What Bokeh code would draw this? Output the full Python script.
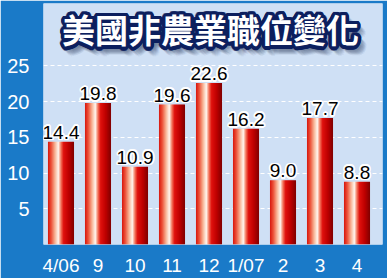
import math
from bokeh.plotting import figure
from bokeh.models import Label, FixedTicker, ColumnDataSource
from bokeh.core.properties import value
from bokeh.embed import file_html
from bokeh.resources import INLINE

# --- data -------------------------------------------------------------
months = ["4/06", "9", "10", "11", "12", "1/07", "2", "3", "4"]
jobs = [14.4, 19.8, 10.9, 19.6, 22.6, 16.2, 9.0, 17.7, 8.8]   # 萬個
y_ticks = [5, 10, 15, 20, 25]
title_text = "美國非農業職位變化"
unit_text = "萬個"

# --- styling ----------------------------------------------------------
BLUE = "#1a7ac8"
PANEL = "#cfe0f5"
NAVY = "#0c1f5e"
BAR_W = 0.70
N_SLICES = 26

# horizontal "cylinder" shading of each bar, left -> right
stops = [
    (0.00, (214, 22, 14)),
    (0.12, (236, 78, 54)),
    (0.27, (248, 178, 148)),
    (0.40, (255, 246, 238)),
    (0.50, (244, 118, 92)),
    (0.60, (224, 18, 14)),
    (0.80, (190, 0, 0)),
    (1.00, (128, 0, 0)),
]


def shade(t):
    for (t0, c0), (t1, c1) in zip(stops[:-1], stops[1:]):
        if t0 <= t <= t1:
            f = (t - t0) / (t1 - t0)
            r, g, b = (round(a + (b_ - a) * f) for a, b_ in zip(c0, c1))
            return "#%02x%02x%02x" % (r, g, b)
    return "#%02x%02x%02x" % stops[-1][1]


def ring(radius, n):
    return [(radius * math.cos(2 * math.pi * a / n), radius * math.sin(2 * math.pi * a / n))
            for a in range(n)]


idx = list(range(len(months)))

p = figure(
    width=387, height=278,
    x_range=(-0.473, 8.689), y_range=(0, 33.75),
    output_backend="svg", toolbar_location=None,
    min_border_left=43, min_border_right=5,
    min_border_top=3, min_border_bottom=32,
    background_fill_color=PANEL, border_fill_color=BLUE,
    outline_line_color=None,
)

# bars built from thin vertical slices to get the shaded look
slice_w = BAR_W / N_SLICES
xs, tops, cols = [], [], []
for i, v in zip(idx, jobs):
    for k in range(N_SLICES):
        t = (k + 0.5) / N_SLICES
        xs.append(i - BAR_W / 2 + (k + 0.5) * slice_w)
        tops.append(v)
        cols.append(shade(t))
bars = ColumnDataSource(dict(x=xs, top=tops, color=cols))
p.vbar(x="x", top="top", bottom=0, width=slice_w * 1.15, source=bars,
       fill_color="color", line_color=None)

# value labels above each bar: white halo, then black text
lab = ColumnDataSource(dict(x=idx, y=jobs, t=["%.1f" % v for v in jobs]))
label_style = dict(text_align="center", text_baseline="bottom",
                   text_font=value("Liberation Sans"), text_font_size="19px")
for dx, dy in ring(1.7, 12):
    p.text(x="x", y="y", text="t", source=lab, x_offset=dx, y_offset=-3 + dy,
           text_color="white", **label_style)
p.text(x="x", y="y", text="t", source=lab, y_offset=-3,
       text_color="black", **label_style)

# axes
p.xaxis.ticker = FixedTicker(ticks=idx)
p.xaxis.major_label_overrides = {i: m for i, m in zip(idx, months)}
p.yaxis.ticker = FixedTicker(ticks=y_ticks)
for ax in (p.xaxis[0], p.yaxis[0]):
    ax.axis_line_color = None
    ax.major_tick_line_color = None
    ax.minor_tick_line_color = None
    ax.major_label_text_color = "white"
p.xaxis.major_label_text_font = "Liberation Sans"
p.xaxis.major_label_text_font_size = "19px"
p.xaxis.major_label_standoff = 4
p.yaxis.major_label_text_font = "Liberation Sans"
p.yaxis.major_label_text_font_size = "20px"
p.yaxis.major_label_standoff = 8

p.xgrid.grid_line_color = None
p.ygrid.grid_line_color = "white"
p.ygrid.grid_line_dash = "4 3"
p.ygrid.grid_line_width = 1

# heading: soft shadow, thick navy outline, white fill
TX, TY = 4.04, 30.14
head = dict(x=TX, y=TY, text=title_text, text_align="center", text_baseline="middle",
            text_font="Noto Sans CJK TC", text_font_style="bold", text_font_size="33px")
for dx, dy in [(2, -3), (3, -4), (4, -5), (5, -6), (6, -7)]:
    for ox, oy in ring(3, 8):
        p.add_layout(Label(x_offset=dx + ox, y_offset=dy + oy, text_color="#6c7c98",
                           text_alpha=0.09, **head))
for r in (1.2, 2.4, 3.5):
    for ox, oy in ring(r, 20):
        p.add_layout(Label(x_offset=ox, y_offset=oy, text_color=NAVY, **head))
p.add_layout(Label(text_color="white", **head))

# unit caption in the left strip
p.add_layout(Label(x=-1.014, y=29.3, text=unit_text, text_align="center",
                   text_baseline="middle", text_font="Noto Sans CJK TC",
                   text_font_size="17px", text_color="white"))

open("out.html", "w").write(file_html(p, INLINE))
